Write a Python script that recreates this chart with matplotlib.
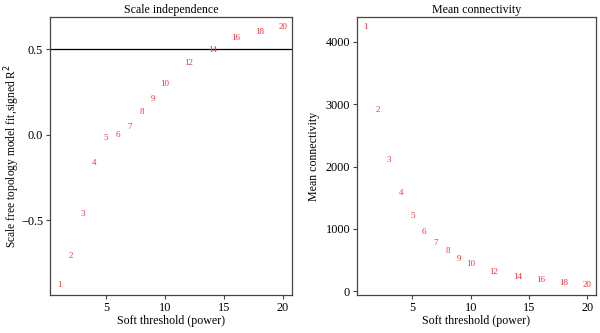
import matplotlib
matplotlib.use("Agg")
import matplotlib.pyplot as plt

plt.rcParams["font.family"] = ["Liberation Serif", "DejaVu Serif"]

powers = [1, 2, 3, 4, 5, 6, 7, 8, 9, 10, 12, 14, 16, 18, 20]
signed_r2 = [-0.876, -0.71, -0.463, -0.167, -0.018, -0.002, 0.047, 0.131,
             0.212, 0.298, 0.422, 0.498, 0.565, 0.60, 0.629]
mean_k = [4231, 2907, 2111, 1577, 1213, 957, 769, 652, 524, 439,
          316, 231, 188, 139, 107]
r2_cutoff = 0.5

W, H = 600, 333
fig = plt.figure(figsize=(W / 100, H / 100), dpi=100)
ax1 = fig.add_axes([50 / W, 38 / H, 242 / W, 278 / H])
ax2 = fig.add_axes([357 / W, 38 / H, 239 / W, 278 / H])

label_color = "#f2333f"
tick_fs = 8.8
label_fs = 8.6

def r_style(ax, values):
    # R-like axes: 4% padding, box frame, outward ticks
    lo, hi = min(values), max(values)
    pad = (hi - lo) * 0.04
    ax.set_ylim(lo - pad, hi + pad)
    ax.set_xlim(1 - 0.76, 20 + 0.76)
    ax.set_xticks([5, 10, 15, 20])
    for s in ax.spines.values():
        s.set_color("#444444")
        s.set_linewidth(0.9)
    ax.tick_params(direction="out", length=3, width=0.8, color="#444444",
                   labelsize=tick_fs, pad=2)

for p, v in zip(powers, signed_r2):
    ax1.text(p, v, str(p), color=label_color, fontsize=6.5, ha="center", va="center")
r_style(ax1, signed_r2)
ax1.set_yticks([-0.5, 0.0, 0.5])
ax1.axhline(r2_cutoff, color="black", linewidth=0.9)
ax1.set_title("Scale independence", fontsize=label_fs, pad=3)
ax1.set_xlabel("Soft threshold (power)", fontsize=label_fs, labelpad=1)
ax1.set_ylabel("Scale free topology model fit,signed R$^2$", fontsize=8.3, va="center")
ax1.yaxis.set_label_coords(-0.155, 0.5)

for p, v in zip(powers, mean_k):
    ax2.text(p, v, str(p), color=label_color, fontsize=6.5, ha="center", va="center")
r_style(ax2, mean_k)
ax2.set_yticks([0, 1000, 2000, 3000, 4000])
ax2.set_title("Mean connectivity", fontsize=label_fs, pad=3)
ax2.set_xlabel("Soft threshold (power)", fontsize=label_fs, labelpad=1)
ax2.set_ylabel("Mean connectivity", fontsize=label_fs, va="center")
ax2.yaxis.set_label_coords(-0.18, 0.5)

fig.savefig("out.png", dpi=100)
